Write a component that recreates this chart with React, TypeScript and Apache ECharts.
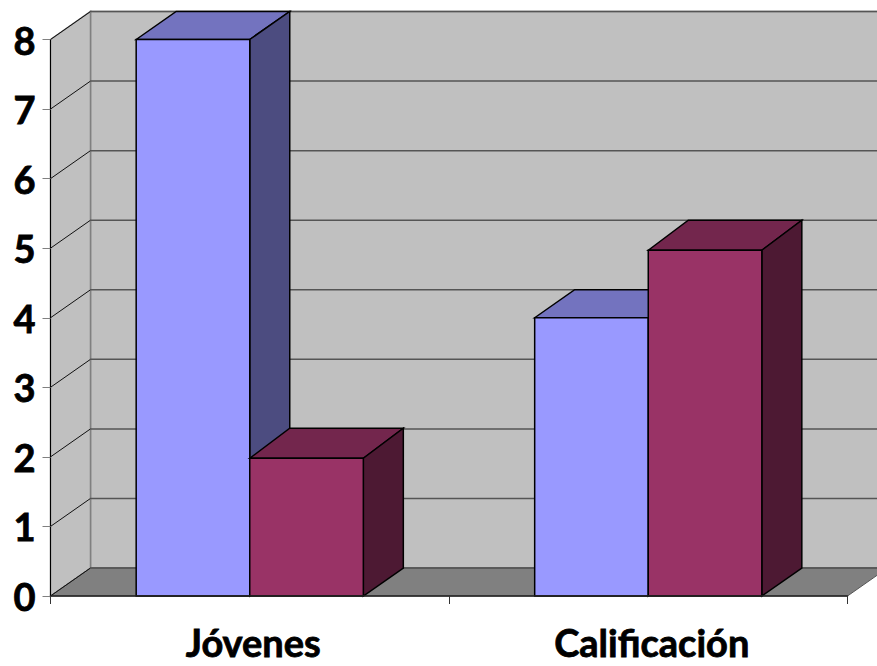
import React, { useEffect, useRef } from "react";
import * as echarts from "echarts";

const categories = ["Jóvenes", "Calificación"];
const seriesA = [8, 4];
const seriesB = [1.98, 4.97];
const tickValues = [0, 1, 2, 3, 4, 5, 6, 7, 8];

const DX = 40;
const DY = 28;
const BAR_FRACTION = 0.285;
const FONT = "Lato, Carlito, 'Open Sans', sans-serif";

function poly(points: number[][], fill: string, stroke: string, lineWidth: number) {
  return {
    type: "polygon",
    shape: { points },
    style: { fill, stroke, lineWidth, lineJoin: "miter" },
  };
}

function renderWalls(params: any) {
  const c = params.coordSys;
  const x0 = c.x;
  const x1 = c.x + c.width;
  const top = c.y;
  const bot = c.y + c.height;
  return {
    type: "group",
    children: [
      poly([[x0 + DX, top - DY], [x1 + DX, top - DY], [x1 + DX, bot - DY], [x0 + DX, bot - DY]], "#c0c0c0", "#808080", 1.5),
      poly([[x0, top], [x0 + DX, top - DY], [x0 + DX, bot - DY], [x0, bot]], "#c0c0c0", "#808080", 1.5),
      poly([[x0, bot], [x0 + DX, bot - DY], [x1 + DX, bot - DY], [x1, bot]], "#808080", "#555555", 1),
    ],
  };
}

function renderGrid(params: any, api: any) {
  const c = params.coordSys;
  const x0 = c.x;
  const x1 = c.x + c.width;
  const y = api.coord([0, api.value(0)])[1];
  return {
    type: "group",
    children: [
      { type: "line", shape: { x1: x0, y1: y, x2: x0 + DX, y2: y - DY }, style: { stroke: "#111111", lineWidth: 1 } },
      { type: "line", shape: { x1: x0 + DX, y1: y - DY, x2: x1 + DX, y2: y - DY }, style: { stroke: "#555555", lineWidth: 1.5 } },
    ],
  };
}

function makeBar(offsetSign: number, topDepth: number, front: string, topFace: string, side: string) {
  return (_params: any, api: any) => {
    const cat = api.value(0);
    const val = api.value(1);
    const band = api.size([1, 0])[0];
    const w = band * BAR_FRACTION;
    const cx = api.coord([cat, 0])[0];
    const base = api.coord([cat, 0])[1];
    const y = api.coord([cat, val])[1];
    const l = cx + (offsetSign < 0 ? -w : 0);
    const r = l + w;
    return {
      type: "group",
      children: [
        poly([[l, y], [l + DX, y - topDepth], [r + DX, y - topDepth], [r, y]], topFace, "#000000", 1.5),
        poly([[r, y], [r + DX, y - topDepth], [r + DX, base - DY], [r, base]], side, "#000000", 1.5),
        poly([[l, y], [r, y], [r, base], [l, base]], front, "#000000", 1.5),
      ],
    };
  };
}

export default function App() {
  const ref = useRef<HTMLDivElement>(null);
  useEffect(() => {
    document.body.style.margin = "0";
    const chart = echarts.init(ref.current!, undefined, { renderer: "svg" });
    chart.setOption({
      animation: false,
      backgroundColor: "#ffffff",
      grid: { left: 50.5, right: 29.5, top: 39.5, bottom: 70 },
      xAxis: {
        type: "category",
        data: categories,
        z: 10,
        axisLine: { lineStyle: { color: "#222222", width: 1.5 } },
        axisTick: { show: true, length: 8, lineStyle: { color: "#333333", width: 1 } },
        axisLabel: {
          color: "#000000",
          fontFamily: FONT,
          fontWeight: "bold",
          fontSize: 38,
          lineHeight: 36,
          margin: 28,
          padding: [0, 0, 0, 7],
          textBorderColor: "#000000",
          textBorderWidth: 0.8,
        },
      },
      yAxis: {
        type: "value",
        min: 0,
        max: 8,
        interval: 1,
        z: 10,
        axisLine: { show: true, lineStyle: { color: "#000000", width: 1 } },
        axisTick: { show: true, length: 8, lineStyle: { color: "#808080", width: 1 } },
        splitLine: { show: false },
        axisLabel: {
          color: "#000000",
          fontFamily: FONT,
          fontWeight: "bold",
          fontSize: 38,
          margin: 15,
          textBorderColor: "#000000",
          textBorderWidth: 0.8,
        },
      },
      series: [
        { type: "custom", name: "walls", z: 1, silent: true, renderItem: renderWalls, data: [0], encode: { x: 0 } },
        { type: "custom", name: "grid", z: 2, silent: true, renderItem: renderGrid, data: tickValues.slice(0).map((v) => [v]), encode: { y: 0 } },
        {
          type: "custom",
          name: "Serie 1",
          z: 3,
          renderItem: makeBar(-1, DY, "#9999ff", "#7373bf", "#4c4c80"),
          data: seriesA.map((v, i) => [i, v]),
          encode: { x: 0, y: 1 },
        },
        {
          type: "custom",
          name: "Serie 2",
          z: 4,
          renderItem: makeBar(1, DY + 2, "#993366", "#73264d", "#4d1933"),
          data: seriesB.map((v, i) => [i, v]),
          encode: { x: 0, y: 1 },
        },
      ],
    });
    return () => chart.dispose();
  }, []);
  return <div ref={ref} style={{ width: 877, height: 666 }} />;
}
